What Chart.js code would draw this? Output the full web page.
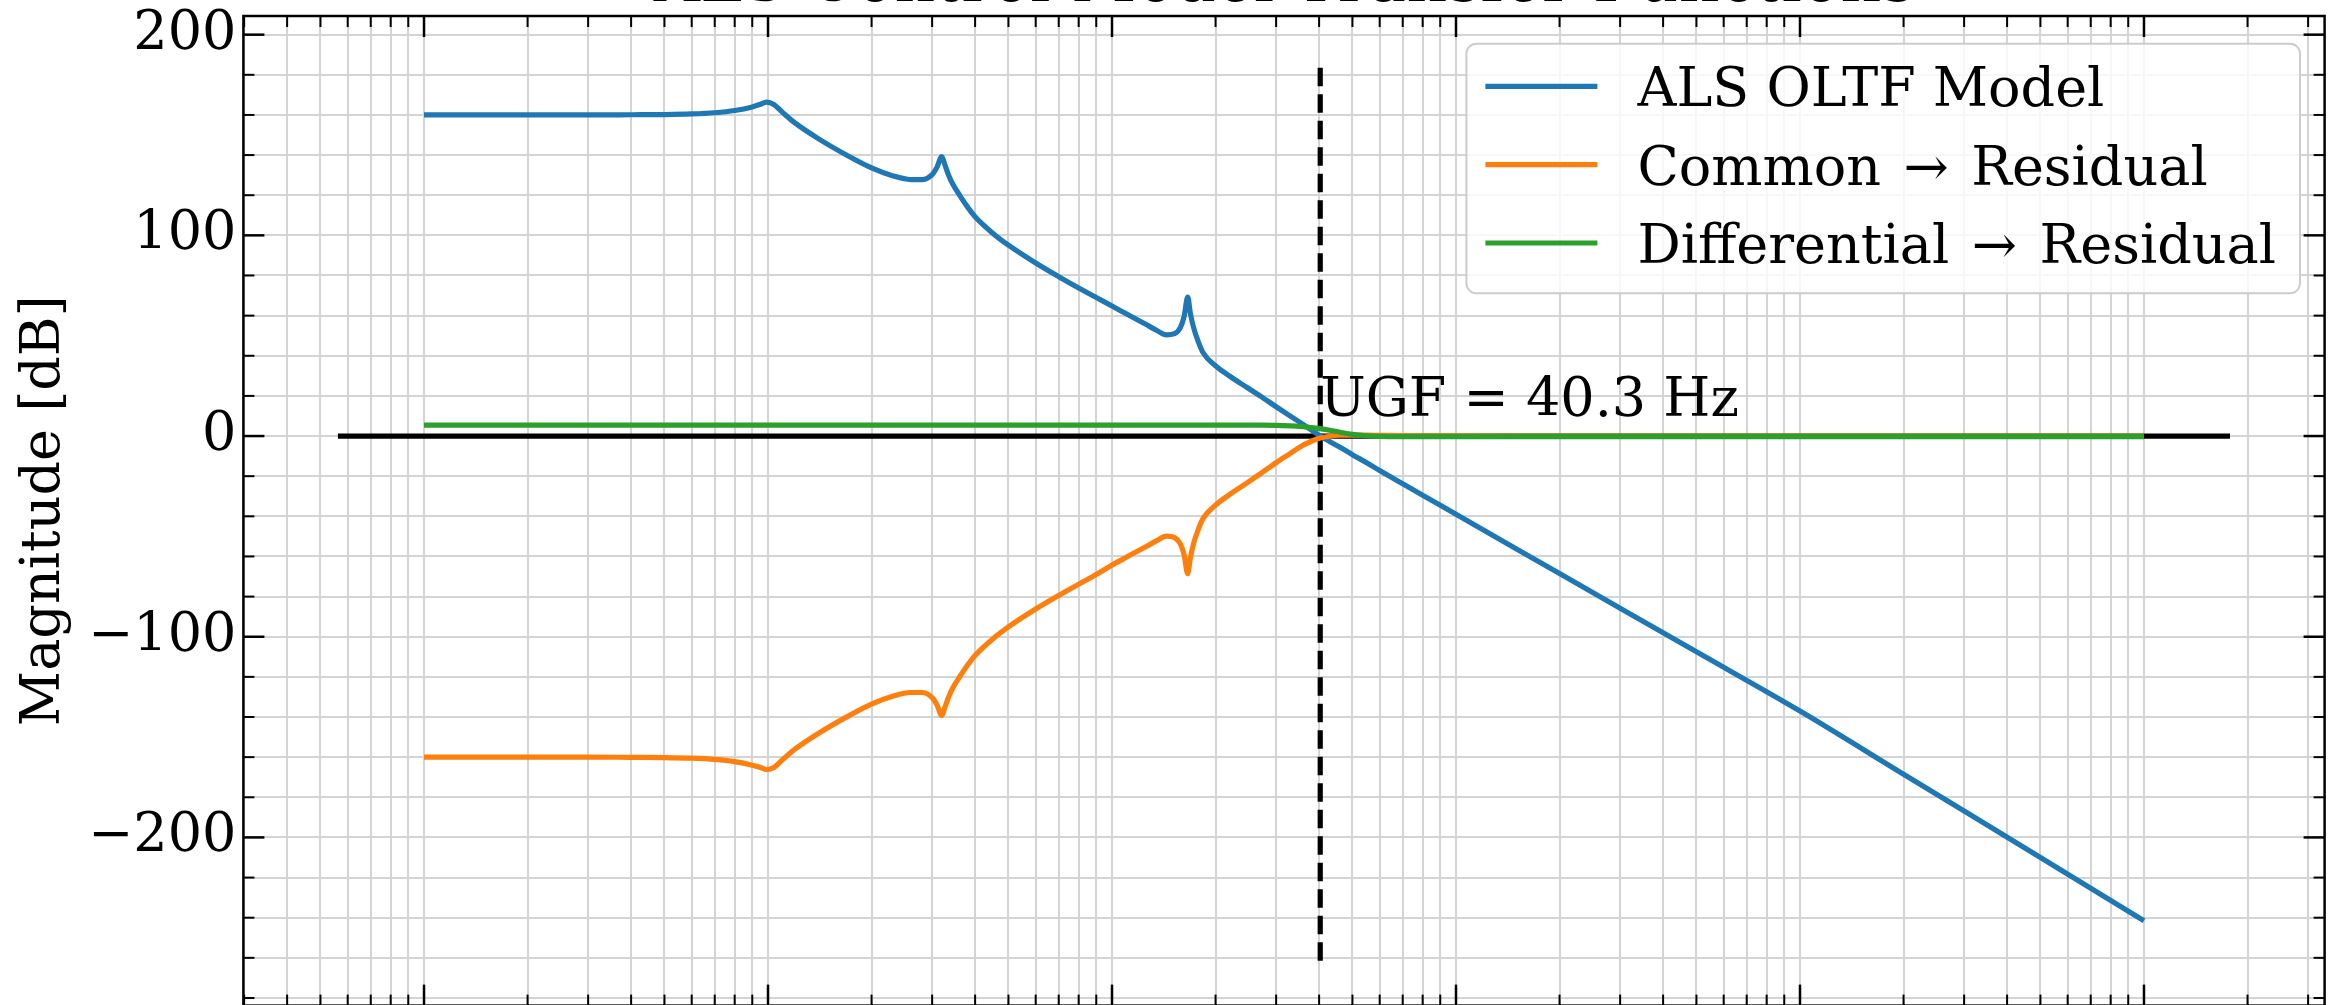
<!DOCTYPE html>
<html>
<head>
<meta charset="utf-8">
<title>ALS Control Model Transfer Functions</title>
<script src="https://cdn.jsdelivr.net/npm/chart.js@4.4.1/dist/chart.umd.min.js"></script>
<style>
  html, body { margin: 0; padding: 0; background: #fff; }
  #frame { position: relative; width: 2328px; height: 1005px; overflow: hidden; }
  #chart { position: absolute; left: 0; top: -100px; }
</style>
</head>
<body>
<div id="frame"><canvas id="chart" width="2328" height="1145"></canvas></div>
<script>
// frequency grid (Hz), shared by the three transfer functions
const freqHz = [
  0.1, 0.2, 0.3, 0.4, 0.5, 0.6, 0.7, 0.8, 0.9, 0.95,
  0.99, 1.04, 1.1, 1.2, 1.4, 1.7, 2.0, 2.3, 2.6, 2.8,
  3.0, 3.1, 3.2, 3.27, 3.35, 3.45, 3.6, 3.8, 4.0, 4.5,
  5, 6, 7, 8, 9, 10, 11, 12.5, 13.5, 14.4,
  15.2, 15.8, 16.2, 16.6, 16.9, 17.3, 17.8, 18.4, 20, 22,
  24.7, 27, 30, 33, 35.2, 38, 40.3, 43, 46, 50,
  55, 60, 70, 80, 100, 200, 500, 1000, 2000, 5000,
  10000
];

// magnitudes in dB
const oltfDb = [
  160.0, 160.0, 160.0, 160.1, 160.2, 160.5, 161.1, 162.2, 164.0, 165.3,
  166.4, 165.2, 161.4, 155.9, 148.2, 139.8, 133.6, 129.7, 127.8, 127.8,
  130.3, 134.0, 139.3, 135.0, 130.0, 125.3, 120.2, 114.2, 109.3, 101.1,
  95.1, 86.2, 79.4, 73.8, 69.0, 64.8, 60.9, 55.8, 52.6, 50.4,
  51.0, 54.0, 59.5, 69.2, 61.0, 53.5, 47.2, 41.5, 35.0, 29.8,
  24.2, 19.9, 14.6, 9.9, 6.8, 3.0, 0.0, -2.8, -5.6, -9.3,
  -13.3, -17.2, -23.8, -29.5, -39.0, -68.5, -107.5, -137.0, -168.5, -210.0,
  -241.5
];
const commonDb = [
  -160.0, -160.0, -160.0, -160.1, -160.2, -160.5, -161.1, -162.2, -164.0, -165.2,
  -166.2, -165.2, -161.4, -155.9, -148.2, -139.8, -133.6, -129.7, -127.8, -127.8,
  -130.3, -134.0, -139.3, -135.0, -130.0, -125.3, -120.2, -114.2, -109.3, -101.1,
  -95.1, -86.2, -79.4, -73.8, -69.0, -64.3, -60.4, -55.3, -52.1, -49.9,
  -50.6, -53.7, -59.1, -68.6, -60.6, -53.0, -46.7, -41.0, -34.4, -29.1,
  -23.3, -18.8, -13.3, -8.6, -5.4, -2.6, -1.0, -0.1, 0.4, 0.5,
  0.45, 0.35, 0.2, 0.1, 0.05, 0.0, 0.0, 0.0, 0.0, 0.0,
  0.0
];
const diffDb = [
  5.4, 5.4, 5.4, 5.4, 5.4, 5.4, 5.4, 5.4, 5.4, 5.4,
  5.4, 5.4, 5.4, 5.4, 5.4, 5.4, 5.4, 5.4, 5.4, 5.4,
  5.4, 5.4, 5.4, 5.4, 5.4, 5.4, 5.4, 5.4, 5.4, 5.4,
  5.4, 5.4, 5.4, 5.4, 5.4, 5.4, 5.4, 5.4, 5.4, 5.4,
  5.4, 5.4, 5.4, 5.4, 5.4, 5.4, 5.4, 5.4, 5.4, 5.4,
  5.4, 5.4, 5.35, 5.1, 4.8, 4.2, 3.7, 2.9, 1.9, 0.8,
  0.1, -0.2, -0.3, -0.3, -0.3, -0.3, -0.3, -0.3, -0.3, -0.3,
  -0.3
];

// unity gain frequency marker
const ugfHz = 40.3;
const ugfLabelDb = 10;
const ugfLineDb = [-261.4, 186.9];
const zeroLineHz = [0.0562, 17783];

// axes
const xRange = [0.02985, 33500];
const yRange = [-283.8, 209.3];
const xDecades = [0.01, 0.1, 1, 10, 100, 1000, 10000];
const xMultiples = [1, 2, 3, 4, 5, 6, 7, 8, 9];
const yMajorTicks = [-200, -100, 0, 100, 200];
const yGridTicks = [-280, -260, -240, -220, -200, -180, -160, -140, -120, -100, -80, -60, -40, -20,
  0, 20, 40, 60, 80, 100, 120, 140, 160, 180, 200];

const serif = "'DejaVu Serif', 'Liberation Serif', serif";
const fontPx = 54;
const lineW = 5.2;
const gridColor = '#d4d4d4';
const arrow = '\u200a\u2192\u200a';

const xTicks = [];
xDecades.forEach(d => xMultiples.forEach(m => {
  const v = d * m;
  if (v >= xRange[0] && v <= xRange[1]) xTicks.push({ value: v, major: m === 1 });
}));

const toPoints = ys => freqHz.map((f, i) => ({ x: f, y: ys[i] }));
const fmtDb = v => (v < 0 ? '\u2212' + Math.abs(v) : String(v));

// matplotlib-like frame with inward ticks on all four sides
const axisFrame = {
  id: 'axisFrame',
  afterDraw(chart) {
    const { ctx, chartArea: a, scales: { x, y } } = chart;
    ctx.save();
    ctx.strokeStyle = '#000';
    const seg = (x1, y1, x2, y2, w) => {
      ctx.lineWidth = w;
      ctx.beginPath(); ctx.moveTo(x1, y1); ctx.lineTo(x2, y2); ctx.stroke();
    };
    x.ticks.forEach(t => {
      const px = x.getPixelForValue(t.value);
      const len = t.major ? 21 : 11;
      const w = t.major ? 2.5 : 2;
      seg(px, a.top, px, a.top + len, w);
      seg(px, a.bottom, px, a.bottom - len, w);
    });
    y.ticks.forEach(t => {
      const py = y.getPixelForValue(t.value);
      const major = yMajorTicks.includes(t.value);
      const len = major ? 21 : 11;
      const w = major ? 2.5 : 2;
      seg(a.left, py, a.left + len, py, w);
      seg(a.right, py, a.right - len, py, w);
    });
    ctx.lineWidth = 2.5;
    ctx.strokeRect(a.left, a.top, a.right - a.left, a.bottom - a.top);
    ctx.restore();
  }
};

// "UGF = 40.3 Hz" label next to the dashed line
const ugfLabel = {
  id: 'ugfLabel',
  afterDatasetsDraw(chart) {
    const { ctx, scales: { x, y } } = chart;
    ctx.save();
    ctx.font = fontPx + 'px ' + serif;
    ctx.fillStyle = '#000';
    ctx.textAlign = 'left';
    ctx.textBaseline = 'alphabetic';
    ctx.fillText('UGF = ' + ugfHz + ' Hz', x.getPixelForValue(ugfHz), y.getPixelForValue(ugfLabelDb));
    ctx.restore();
  }
};

// legend box in the upper right corner of the plot
const legendBox = {
  id: 'legendBox',
  afterDraw(chart) {
    const { ctx, chartArea: a } = chart;
    const items = chart.data.datasets.filter(d => !d.hideInLegend);
    ctx.save();
    ctx.font = fontPx + 'px ' + serif;
    const textW = Math.max(...items.map(d => ctx.measureText(d.label).width));
    const padL = 19, handleLen = 112, handleGap = 40, padR = 24;
    const w = padL + handleLen + handleGap + textW + padR;
    const right = a.right - 24.6;
    const left = right - w;
    const top = a.top + 27.7;
    const rowPitch = 78.3, firstRow = 42.7, lastPad = 50.3;
    const h = firstRow + rowPitch * (items.length - 1) + lastPad;
    const r = 10;
    ctx.beginPath();
    ctx.moveTo(left + r, top);
    ctx.arcTo(left + w, top, left + w, top + h, r);
    ctx.arcTo(left + w, top + h, left, top + h, r);
    ctx.arcTo(left, top + h, left, top, r);
    ctx.arcTo(left, top, left + w, top, r);
    ctx.closePath();
    ctx.fillStyle = 'rgba(255,255,255,0.8)';
    ctx.fill();
    ctx.strokeStyle = '#cccccc';
    ctx.lineWidth = 2;
    ctx.stroke();
    items.forEach((d, i) => {
      const cy = top + firstRow + i * rowPitch;
      ctx.strokeStyle = d.borderColor;
      ctx.lineWidth = lineW;
      ctx.beginPath();
      ctx.moveTo(left + padL, cy);
      ctx.lineTo(left + padL + handleLen, cy);
      ctx.stroke();
      ctx.fillStyle = '#000';
      ctx.textBaseline = 'alphabetic';
      ctx.fillText(d.label, left + padL + handleLen + handleGap, cy + 20);
    });
    ctx.restore();
  }
};

new Chart(document.getElementById('chart'), {
  type: 'line',
  data: {
    datasets: [
      { label: 'ALS OLTF Model', data: toPoints(oltfDb), borderColor: '#1f77b4', order: 2 },
      { label: 'Common ' + arrow + ' Residual', data: toPoints(commonDb), borderColor: '#ff7f0e', order: 1 },
      { label: 'Differential ' + arrow + ' Residual', data: toPoints(diffDb), borderColor: '#2ca02c', order: 0 },
      { label: '0 dB', hideInLegend: true, data: zeroLineHz.map(f => ({ x: f, y: 0 })),
        borderColor: '#000', order: 3, cubicInterpolationMode: 'default' },
      { label: 'UGF', hideInLegend: true, data: ugfLineDb.map(v => ({ x: ugfHz, y: v })),
        borderColor: '#000', borderDash: [18.5, 8], order: 4, cubicInterpolationMode: 'default' }
    ]
  },
  options: {
    responsive: false,
    animation: false,
    devicePixelRatio: 1,
    elements: {
      point: { radius: 0, hoverRadius: 0 },
      line: { borderWidth: lineW, fill: false, cubicInterpolationMode: 'monotone', borderCapStyle: 'butt' }
    },
    layout: { padding: { left: 0, right: 3.4, top: 0, bottom: 38.3 } },
    plugins: {
      legend: { display: false },
      tooltip: { enabled: false },
      title: {
        display: true,
        fullSize: false,
        text: 'ALS Control Model Transfer Functions',
        color: '#000',
        font: { family: serif, size: 64, weight: 'normal', lineHeight: 1 },
        padding: { top: 52, bottom: 0 }
      }
    },
    scales: {
      x: {
        type: 'logarithmic',
        min: xRange[0],
        max: xRange[1],
        afterBuildTicks: s => { s.ticks = xTicks.map(t => ({ value: t.value, major: t.major })); },
        afterFit: s => { s.height = 0; },
        border: { display: false },
        grid: { color: gridColor, lineWidth: 2, drawTicks: false },
        ticks: { display: false, autoSkip: false }
      },
      y: {
        type: 'linear',
        min: yRange[0],
        max: yRange[1],
        afterBuildTicks: s => { s.ticks = yGridTicks.map(v => ({ value: v })); },
        afterFit: s => { s.width = 243.4; },
        border: { display: false },
        grid: { color: gridColor, lineWidth: 2, drawTicks: false },
        ticks: {
          autoSkip: false,
          padding: 7,
          color: '#000',
          font: { family: serif, size: fontPx },
          callback: v => (yMajorTicks.includes(v) ? fmtDb(v) : '')
        },
        title: {
          display: true,
          text: 'Magnitude [dB]',
          color: '#000',
          font: { family: serif, size: fontPx },
          padding: { top: 13, bottom: 0 }
        }
      }
    }
  },
  plugins: [axisFrame, ugfLabel, legendBox]
});
</script>
</body>
</html>
